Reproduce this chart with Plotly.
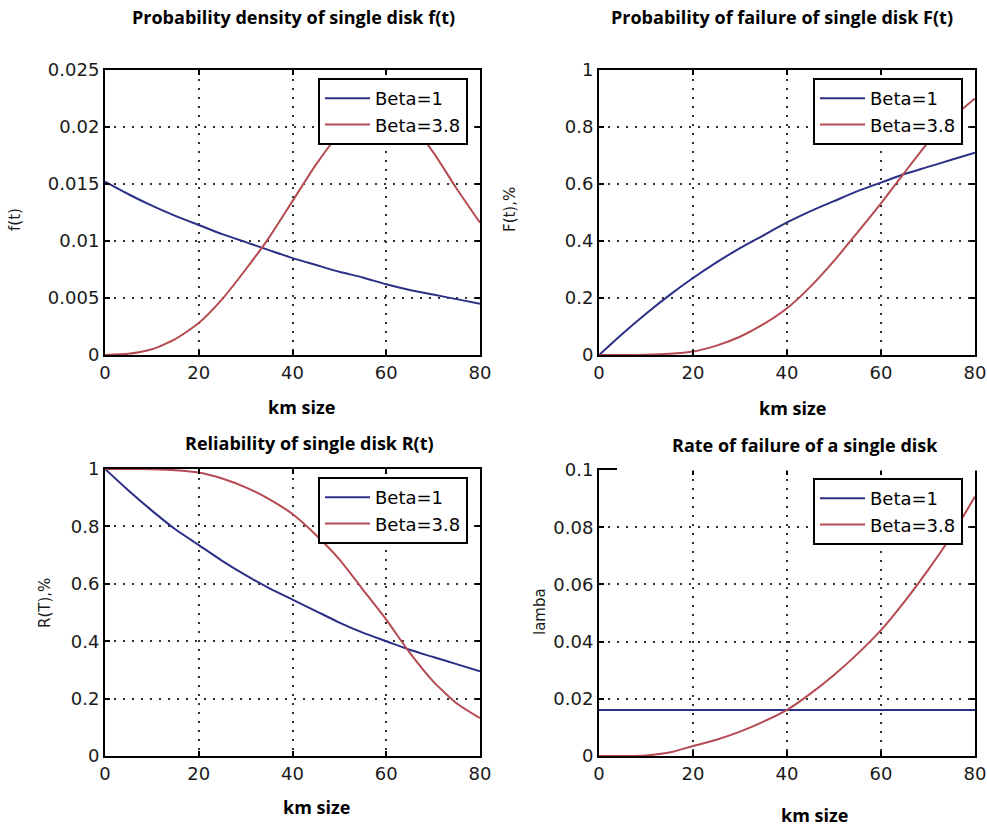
import plotly.graph_objects as go

W, H = 987, 827

# ---------------- data ----------------
t = [0, 5, 10, 15, 20, 25, 30, 35, 40, 45, 50, 55, 60, 65, 70, 75, 80]

f_beta1 = [0.0152, 0.0141, 0.0131, 0.0122, 0.0114, 0.0106, 0.0099, 0.0092, 0.0085,
           0.0079, 0.0073, 0.0068, 0.0062, 0.0057, 0.0053, 0.0049, 0.0045]
f_beta38 = [0.0, 0.0001, 0.0005, 0.0014, 0.0028, 0.0049, 0.0075, 0.0103, 0.0135,
            0.0167, 0.0194, 0.0210, 0.0215, 0.0203, 0.0178, 0.0146, 0.0116]

F_beta1 = [0.0, 0.075, 0.145, 0.21, 0.27, 0.325, 0.375, 0.42, 0.465,
           0.505, 0.54, 0.575, 0.605, 0.635, 0.66, 0.685, 0.71]
F_beta38 = [0.0, 0.0, 0.001, 0.004, 0.012, 0.033, 0.064, 0.108, 0.164,
            0.24, 0.33, 0.43, 0.532, 0.64, 0.745, 0.83, 0.9]

R_beta1 = [1.0, 0.925, 0.855, 0.79, 0.735, 0.68, 0.63, 0.585, 0.545,
           0.505, 0.465, 0.43, 0.40, 0.37, 0.345, 0.32, 0.295]
R_beta38 = [1.0, 1.0, 0.999, 0.996, 0.988, 0.967, 0.936, 0.895, 0.843,
            0.77, 0.685, 0.58, 0.475, 0.36, 0.26, 0.184, 0.132]

lam_beta1 = [0.0161] * len(t)
lam_beta38 = [0.0, 0.0, 0.0002, 0.0012, 0.0035, 0.0057, 0.0085, 0.012, 0.0161,
              0.0218, 0.0283, 0.0357, 0.044, 0.054, 0.065, 0.077, 0.0907]

series_names = ["Beta=1", "Beta=3.8"]

x_ticks = [0, 20, 40, 60, 80]
x_tick_text = ["0", "20", "40", "60", "80"]
f_ticks = [0, 0.005, 0.01, 0.015, 0.02, 0.025]
f_tick_text = ["0", "0.005", "0.01", "0.015", "0.02", "0.025"]
p_ticks = [0, 0.2, 0.4, 0.6, 0.8, 1]
p_tick_text = ["0", "0.2", "0.4", "0.6", "0.8", "1"]
lam_ticks = [0, 0.02, 0.04, 0.06, 0.08, 0.1]
lam_tick_text = ["0", "0.02", "0.04", "0.06", "0.08", "0.1"]

titles = ["Probability density of single disk f(t)",
          "Probability of failure of single disk F(t)",
          "Reliability of single disk R(t)",
          "Rate of failure of a single disk"]
y_titles = ["f(t)", "F(t),%", "R(T),%", "lamba"]
x_title = "km size"

# ---------------- styling ----------------
BLUE = "#2b2f86"
RED = "#b54a52"
TICK_FONT = dict(family="DejaVu Sans", size=18, color="#1a1a1a")
TITLE_FONT = dict(family="Open Sans", size=18, color="black")


def px(x):
    return x / W


def py(y):
    return 1 - y / H


# plot areas in pixels: (left, right, top, bottom)
areas = [(105, 480, 70, 355), (599, 975, 70, 355), (105, 480, 469, 756), (599, 975, 470, 756)]
data_sets = [(f_beta1, f_beta38, f_ticks, f_tick_text, [0, 0.025]),
             (F_beta1, F_beta38, p_ticks, p_tick_text, [0, 1]),
             (R_beta1, R_beta38, p_ticks, p_tick_text, [0, 1]),
             (lam_beta1, lam_beta38, lam_ticks, lam_tick_text, [0, 0.1])]

fig = go.Figure()
layout = dict(width=W, height=H, margin=dict(l=0, r=0, t=0, b=0),
              paper_bgcolor="white", plot_bgcolor="white", showlegend=True)

for i, ((l, r, tp, bt), (s1, s2, yt, ytt, yr)) in enumerate(zip(areas, data_sets)):
    n = "" if i == 0 else str(i + 1)
    leg = "legend" if i == 0 else f"legend{i + 1}"
    for vals, col, name in [(s1, BLUE, series_names[0]), (s2, RED, series_names[1])]:
        fig.add_trace(go.Scatter(x=t, y=vals, mode="lines", name=name,
                                 line=dict(color=col, width=2, shape="spline", smoothing=0.6),
                                 xaxis="x" + n, yaxis="y" + n, legend=leg,
                                 cliponaxis=True))
    common = dict(showline=True, linewidth=2, linecolor="black", mirror="ticks",
                  ticks="inside", ticklen=5, tickwidth=1.5, tickcolor="black",
                  showgrid=True, gridcolor="#333333", gridwidth=1.5, griddash="2px,7px",
                  zeroline=False, tickfont=TICK_FONT, fixedrange=True, automargin=False)
    layout["xaxis" + n] = dict(domain=[px(l), px(r)], range=[0, 80], anchor="y" + n,
                               tickvals=x_ticks, ticktext=x_tick_text, **common)
    layout["yaxis" + n] = dict(domain=[py(bt), py(tp)], range=yr, anchor="x" + n,
                               tickvals=yt, ticktext=ytt, **common)
    layout[leg] = dict(x=px(r - 12), y=py(tp + 8), xanchor="right", yanchor="top",
                       bgcolor="white", bordercolor="black", borderwidth=2,
                       font=dict(family="DejaVu Sans", size=18, color="black"),
                       itemwidth=45, tracegroupgap=0)

fig.update_layout(**layout)

# white patch over the top border of the last panel (as in the picture)
fig.add_shape(type="rect", xref="paper", yref="paper",
              x0=px(617), x1=px(987), y0=py(470.5), y1=py(422),
              fillcolor="white", line=dict(width=0), layer="above")

ann = []
# panel titles
for (x, y), txt in zip([(293, 17), (782, 17), (309, 443), (805, 445)], titles):
    ann.append(dict(x=px(x), y=py(y), text=f"<b>{txt}</b>", showarrow=False,
                    xref="paper", yref="paper", xanchor="center", yanchor="middle",
                    font=TITLE_FONT))
# x titles
for (x, y) in [(301, 407), (792, 408), (316, 807), (814, 815)]:
    ann.append(dict(x=px(x), y=py(y), text=f"<b>{x_title}</b>", showarrow=False,
                    xref="paper", yref="paper", xanchor="center", yanchor="middle",
                    font=TITLE_FONT))
# y titles
for (x, y), txt in zip([(15, 220), (510, 210), (45, 603), (540, 612)], y_titles):
    ann.append(dict(x=px(x), y=py(y), text=txt, showarrow=False, textangle=-90,
                    xref="paper", yref="paper", xanchor="center", yanchor="middle",
                    font=dict(family="DejaVu Sans", size=15, color="#1a1a1a")))
fig.update_layout(annotations=ann)

fig.write_html("out.html", config={"displayModeBar": False},
               post_script="document.body.style.margin='0';document.body.style.overflow='hidden';")
